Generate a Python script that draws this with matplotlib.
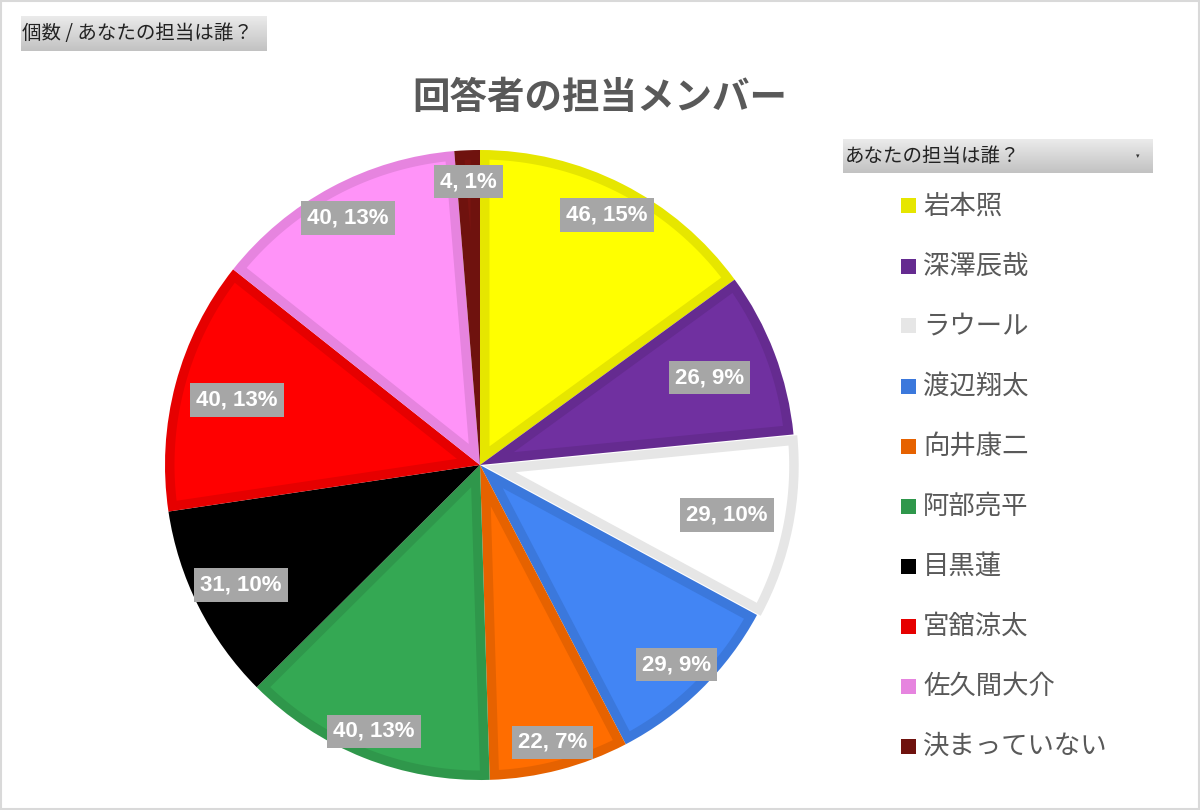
import numpy as np
import matplotlib
matplotlib.use("Agg")
from matplotlib import pyplot as plt
from matplotlib.patches import Rectangle, Polygon
from matplotlib.colors import to_rgb

plt.rcParams['font.family'] = ['Noto Sans CJK JP', 'DejaVu Sans']

# データ
members = ['岩本照', '深澤辰哉', 'ラウール', '渡辺翔太', '向井康二',
           '阿部亮平', '目黒蓮', '宮舘涼太', '佐久間大介', '決まっていない']
counts = [46, 26, 29, 29, 22, 40, 31, 40, 40, 4]
pcts = [15, 9, 10, 9, 7, 13, 10, 13, 13, 1]
colors = ['#FFFF00', '#7030A0', '#FFFFFF', '#4285F4', '#FF6D00',
          '#34A853', '#000000', '#FF0000', '#FF93F8', '#7B1410']
title = '回答者の担当メンバー'
field_btn = '個数 / あなたの担当は誰？'
legend_btn = 'あなたの担当は誰？'

W, H = 1200, 810
fig = plt.figure(figsize=(W / 100, H / 100), dpi=100)
fig.patch.set_facecolor('white')

def darker(c, f=0.9):
    return tuple(v * f for v in to_rgb(c))

edge_colors = [darker(c) for c in colors]

# 円グラフ
cx, cy, R = 480, 465, 315
pad = 1.06
ax = fig.add_axes([(cx - R * pad) / W, (H - cy - R * pad) / H,
                   2 * R * pad / W, 2 * R * pad / H])
explode = [0, 0, 0.012, 0, 0, 0, 0, 0, 0, 0]
# 外側は枠の色で塗り、内側を本来の色で塗る
wedges, _ = ax.pie(counts, colors=edge_colors, startangle=90, counterclock=False,
                   explode=explode, radius=1, wedgeprops=dict(linewidth=0))

bw = 9.5 / R  # 枠の太さ
for w, fc in zip(wedges, colors):
    t1, t2 = np.radians(w.theta1), np.radians(w.theta2)
    half = (t2 - t1) / 2
    ox, oy = w.center
    rho = w.r - bw
    tip = bw / np.sin(half)
    da = np.arcsin(bw / rho)
    if tip >= rho * np.cos(half - da) or t2 - da <= t1 + da:
        continue
    mid = (t1 + t2) / 2
    arc = np.linspace(t1 + da, t2 - da, 120)
    pts = [(ox + tip * np.cos(mid), oy + tip * np.sin(mid))]
    pts += list(zip(ox + rho * np.cos(arc), oy + rho * np.sin(arc)))
    ax.add_patch(Polygon(pts, closed=True, fc=fc, ec='none'))

ax.set_xlim(-pad, pad)
ax.set_ylim(-pad, pad)
ax.set_aspect('equal')
ax.axis('off')

# ラベル
label_r = [0.89, 0.78, 0.80, 0.89, 0.91, 0.91, 0.85, 0.80, 0.89, 0.90]
total = sum(counts)
start = 90.0
for i, (n, p) in enumerate(zip(counts, pcts)):
    ang = start - 360.0 * n / total / 2
    start -= 360.0 * n / total
    r = label_r[i]
    x = r * np.cos(np.radians(ang))
    y = r * np.sin(np.radians(ang))
    ax.text(x, y, f'{n}, {p}%', ha='center', va='center', color='white',
            fontsize=16, fontweight='bold', family=['Liberation Sans', 'DejaVu Sans'],
            bbox=dict(boxstyle='square,pad=0.28', fc='#A6A6A6', ec='none'))

# タイトル
fig.text(600 / W, 1 - 97 / H, title, ha='center', va='center',
         fontsize=27, fontweight='bold', color='#595959')

def gray_button(x0, y0, x1, y1, text, arrow=False):
    bax = fig.add_axes([x0 / W, 1 - y1 / H, (x1 - x0) / W, (y1 - y0) / H])
    grad = np.linspace(0.92, 0.76, 50).reshape(-1, 1)
    bax.imshow(grad, cmap='gray', vmin=0, vmax=1, aspect='auto',
               extent=[0, 1, 0, 1])
    bax.set_xlim(0, 1)
    bax.set_ylim(0, 1)
    bax.axis('off')
    bax.text(0.006, 0.5, text, ha='left', va='center', fontsize=14, color='#222222')
    if arrow:
        bax.text(0.95, 0.5, '▾', ha='center', va='center', fontsize=5,
                 color='#333333', family=['DejaVu Sans'])

gray_button(21, 16, 267, 51, field_btn)
gray_button(843, 139, 1153, 173, legend_btn, arrow=True)

# 凡例
for i, (name, ec) in enumerate(zip(members, edge_colors)):
    yc = 206 + 60 * i
    fig.patches.append(Rectangle((901 / W, 1 - (yc + 7.5) / H), 15 / W, 15 / H,
                                 transform=fig.transFigure, fc=ec, ec='none'))
    fig.text(923 / W, 1 - yc / H, name, ha='left', va='center',
             fontsize=19, color='#595959')

# 枠
fig.patches.append(Rectangle((0.001, 0.001), 0.998, 0.998, transform=fig.transFigure,
                             fill=False, ec='#D9D9D9', lw=1.5))

fig.savefig('out.png', dpi=100)
